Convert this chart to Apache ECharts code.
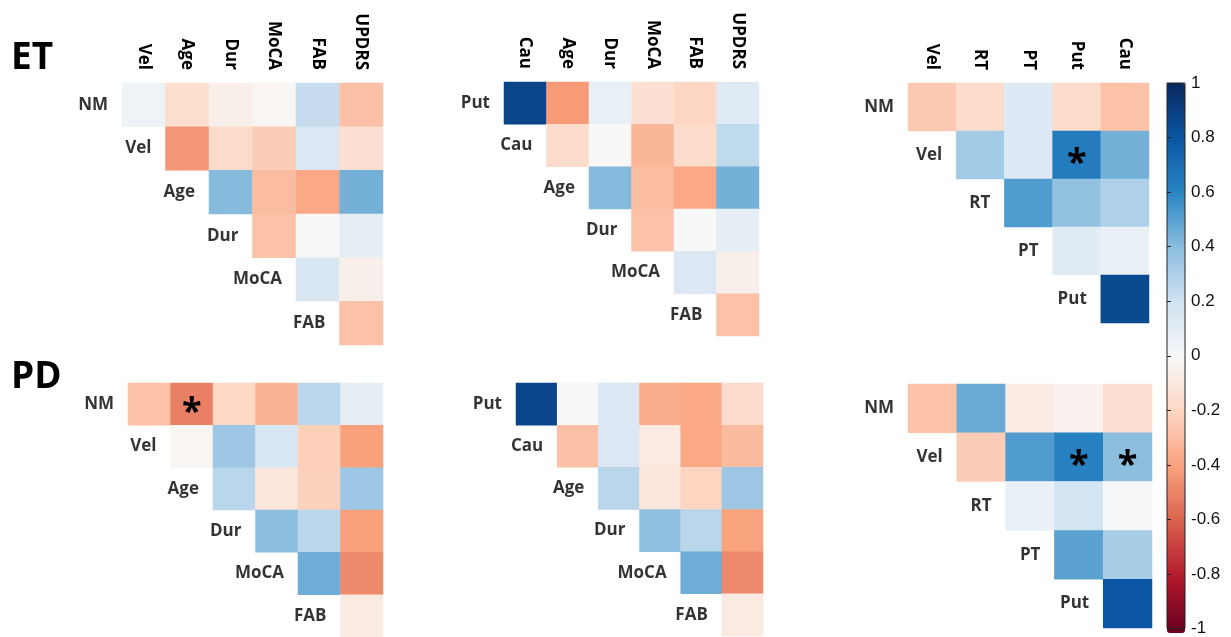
<!DOCTYPE html>
<html>
<head>
<meta charset="utf-8">
<script src="https://cdn.jsdelivr.net/npm/echarts@6/dist/echarts.min.js"></script>
<style>
html,body{margin:0;padding:0;background:#fff;}
#chart{width:1231px;height:637px;}
</style>
</head>
<body>
<div id="chart"></div>
<script>
// ---------- DATA ----------
const rowsET1 = ['NM','Vel','Age','Dur','MoCA','FAB'];
const colsET1 = ['Vel','Age','Dur','MoCA','FAB','UPDRS'];
const valsET1 = [
  [0.05, -0.15, -0.05, -0.02, 0.23, -0.28],
  [-0.43, -0.16, -0.23, 0.15, -0.14],
  [0.41, -0.29, -0.37, 0.45],
  [-0.27, 0.0, 0.1],
  [0.16, -0.05],
  [-0.27]
];
const sigET1 = [];

const rowsET2 = ['Put','Cau','Age','Dur','MoCA','FAB'];
const colsET2 = ['Cau','Age','Dur','MoCA','FAB','UPDRS'];
const valsET2 = [
  [0.87, -0.42, 0.08, -0.14, -0.19, 0.13],
  [-0.16, 0.0, -0.32, -0.16, 0.25],
  [0.41, -0.29, -0.37, 0.45],
  [-0.27, 0.0, 0.1],
  [0.15, -0.05],
  [-0.27]
];
const sigET2 = [];

const rowsET3 = ['NM','Vel','RT','PT','Put'];
const colsET3 = ['Vel','RT','PT','Put','Cau'];
const valsET3 = [
  [-0.24, -0.16, 0.14, -0.16, -0.27],
  [0.33, 0.14, 0.64, 0.45],
  [0.52, 0.38, 0.3],
  [0.12, 0.07],
  [0.85]
];
const sigET3 = [['Vel','Put']];

const rowsPD1 = ['NM','Vel','Age','Dur','MoCA','FAB'];
const colsPD1 = ['Vel','Age','Dur','MoCA','FAB','UPDRS'];
const valsPD1 = [
  [-0.27, -0.5, -0.18, -0.33, 0.27, 0.1],
  [-0.02, 0.35, 0.17, -0.22, -0.4],
  [0.27, -0.1, -0.21, 0.35],
  [0.4, 0.27, -0.4],
  [0.46, -0.47],
  [-0.08]
];
const sigPD1 = [['NM','Age']];

const rowsPD2 = ['Put','Cau','Age','Dur','MoCA','FAB'];
const colsPD2 = ['Cau','Age','Dur','MoCA','FAB','UPDRS'];
const valsPD2 = [
  [0.87, 0.0, 0.15, -0.35, -0.37, -0.16],
  [-0.28, 0.15, -0.08, -0.37, -0.3],
  [0.27, -0.1, -0.2, 0.35],
  [0.39, 0.27, -0.39],
  [0.46, -0.47],
  [-0.08]
];
const sigPD2 = [];

const rowsPD3 = ['NM','Vel','RT','PT','Put'];
const colsPD3 = ['Vel','RT','PT','Put','Cau'];
const valsPD3 = [
  [-0.27, 0.47, -0.07, -0.04, -0.14],
  [-0.23, 0.52, 0.62, 0.4],
  [0.07, 0.19, 0.02],
  [0.5, 0.32],
  [0.8]
];
const sigPD3 = [['Vel','Put'],['Vel','Cau']];

const groupTitles = ['ET','PD'];
const colorbarTicks = [-1, 1, 0.2];

// ---------- LAYOUT ----------
const panels = [
  {rows: rowsET1, cols: colsET1, vals: valsET1, sig: sigET1, showCols: true,  left:122, top:83,  width:261, height:262},
  {rows: rowsET2, cols: colsET2, vals: valsET2, sig: sigET2, showCols: true,  left:504, top:82,  width:255, height:254},
  {rows: rowsET3, cols: colsET3, vals: valsET3, sig: sigET3, showCols: true,  left:908, top:83,  width:241, height:240},
  {rows: rowsPD1, cols: colsPD1, vals: valsPD1, sig: sigPD1, showCols: false, left:128, top:383, width:255, height:255},
  {rows: rowsPD2, cols: colsPD2, vals: valsPD2, sig: sigPD2, showCols: false, left:516, top:383, width:247, height:253},
  {rows: rowsPD3, cols: colsPD3, vals: valsPD3, sig: sigPD3, showCols: false, left:908, top:384, width:244, height:244}
];

const FONT = '"Open Sans", "DejaVu Sans", sans-serif';
const grids = [], xAxes = [], yAxes = [], series = [];

panels.forEach((p, k) => {
  grids.push({left: p.left, top: p.top, width: p.width, height: p.height, containLabel: false});
  xAxes.push({
    type: 'category', gridIndex: k, data: p.cols, position: 'top',
    axisLine: {show: false}, axisTick: {show: false}, splitLine: {show: false},
    axisLabel: {show: p.showCols, rotate: 90, interval: 0, margin: 13,
      fontFamily: FONT, fontWeight: 'bold', fontSize: 17, color: '#000'}
  });
  yAxes.push({
    type: 'category', gridIndex: k, data: p.rows, inverse: true,
    axisLine: {show: false}, axisTick: {show: false}, splitLine: {show: false},
    axisLabel: {show: false}
  });
  const sigKeys = new Set(p.sig.map(s => s[0] + '|' + s[1]));
  const data = [];
  p.vals.forEach((row, i) => {
    row.forEach((v, j) => {
      const c = i + j;
      data.push([c, i, v, sigKeys.has(p.rows[i] + '|' + p.cols[c]) ? 1 : 0]);
    });
  });
  series.push({
    type: 'heatmap', xAxisIndex: k, yAxisIndex: k, data: data,
    itemStyle: {borderWidth: 0},
    label: {show: true, formatter: q => q.data[3] ? '*' : '',
      fontSize: 36, fontWeight: 'bold', fontFamily: FONT, color: '#000', offset: [0, 9]},
    emphasis: {disabled: true}
  });
  const cellW = p.width / p.cols.length;
  series.push({
    type: 'scatter', xAxisIndex: k, yAxisIndex: k, symbolSize: 0, clip: false,
    silent: true,
    data: p.rows.map((r, i) => ({name: r, value: [i, i]})),
    label: {show: true, position: 'left', distance: cellW / 2 + 14, formatter: '{b}',
      fontFamily: FONT, fontWeight: 'bold', fontSize: 17, color: '#000'}
  });
});

// colorbar axis grid
const cbIndex = panels.length;
grids.push({left: 1167, top: 83, width: 18, height: 550, show: true, z: 10,
  backgroundColor: 'transparent', borderColor: '#222', borderWidth: 1});
xAxes.push({type: 'value', gridIndex: cbIndex, show: false, min: 0, max: 1});
yAxes.push({type: 'value', gridIndex: cbIndex, position: 'right', z: 10,
  min: colorbarTicks[0], max: colorbarTicks[1], interval: colorbarTicks[2],
  axisLine: {show: false}, splitLine: {show: false},
  axisTick: {show: true, length: 4, lineStyle: {color: '#222'}},
  axisLabel: {margin: 6, fontFamily: 'Liberation Sans, Arial, sans-serif', fontSize: 17, color: '#111',
    formatter: v => String(Math.round(v * 10) / 10)}
});

const option = {
  animation: false,
  backgroundColor: '#fff',
  title: groupTitles.map((t, i) => ({
    text: t, left: 11, top: i === 0 ? 40 : 359, padding: 0,
    textStyle: {fontFamily: FONT, fontWeight: 'bold', fontSize: 37, color: '#000'}
  })),
  grid: grids, xAxis: xAxes, yAxis: yAxes,
  visualMap: {
    type: 'continuous', min: -1, max: 1, calculable: false, show: true, dimension: 2,
    seriesIndex: series.filter(s => s.type === 'heatmap').map(s => series.indexOf(s)),
    left: 1167, top: 83, itemWidth: 18, itemHeight: 550, padding: 0, text: null,
    showLabel: false,
    inRange: {color: ['#67001f','#b2182b','#d8604b','#f9a07c','#fdd5c0','#f8f8f8',
                      '#d1e3f2','#8cbedf','#2a85c3','#0b55a3','#08285c']}
  },
  series: series
};

const chart = echarts.init(document.getElementById('chart'), null, {renderer: 'canvas'});
chart.setOption(option);
</script>
</body>
</html>
